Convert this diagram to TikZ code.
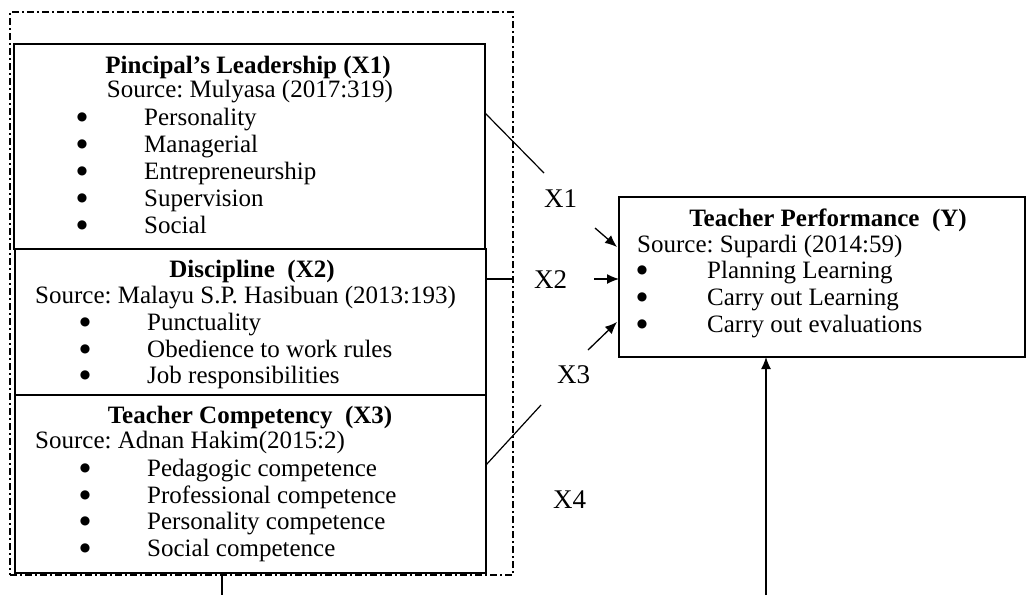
\documentclass[tikz,border=0pt]{standalone}
\usepackage{fontspec}
\setmainfont{Liberation Serif}
\newfontfamily\symfont{DejaVu Sans}
\usetikzlibrary{arrows.meta}
\frenchspacing
\begin{document}
\begin{tikzpicture}[x=1pt,y=-1pt,
  box/.style={draw, line width=1.2pt, rectangle, inner sep=0pt, outer sep=0pt, anchor=north west},
  dashdotbox/.style={box, dash pattern=on 7pt off 3pt on 2pt off 3pt},
  txt/.style={inner sep=0pt, font=\fontsize{25}{28}\selectfont},
  ttl/.style={inner sep=0pt, anchor=base, font=\fontsize{25}{28}\selectfont\bfseries},
  lft/.style={txt, anchor=base west},
  ctr/.style={txt, anchor=base},
  bul/.style={inner sep=0pt, anchor=center, font=\symfont\fontsize{12}{14}\selectfont},
  lbl/.style={inner sep=0pt, anchor=base west, font=\fontsize{27}{30}\selectfont},
  conn/.style={line width=1.2pt},
  arr/.style={line width=1.3pt, -{Latex[length=12pt,width=10pt]}},
]
\useasboundingbox (0,0) rectangle (1026,595);

% outer dash-dot frame
\node[dashdotbox, minimum width=503pt, minimum height=563pt] (frame) at (10,12) {};

% boxes
\node[box, minimum width=471pt, minimum height=205pt] (bx1) at (14,44) {};
\node[box, minimum width=471pt, minimum height=146pt] (bx2) at (15,249) {};
\node[box, minimum width=471pt, minimum height=178pt] (bx3) at (15,395) {};
\node[box, minimum width=406pt, minimum height=160pt] (ybox) at (619,197) {};

% X1 box text
\node[ttl] (t1) at (248,73) {Pincipal’s Leadership (X1)};
\node[ctr] (s1) at (250,97) {Source: Mulyasa (2017:319)};
\node[bul] (b11) at (82,117) {●};
\node[lft] (i11) at (144,125) {Personality};
\node[bul] (b12) at (82,144) {●};
\node[lft] (i12) at (144,152) {Managerial};
\node[bul] (b13) at (82,171) {●};
\node[lft] (i13) at (144,179) {Entrepreneurship};
\node[bul] (b14) at (82,198) {●};
\node[lft] (i14) at (144,206) {Supervision};
\node[bul] (b15) at (82,225) {●};
\node[lft] (i15) at (144,233) {Social};

% X2 box text
\node[ttl] (t2) at (252,277) {Discipline\ \ (X2)};
\node[lft] (s2) at (35,303) {Source: Malayu S.P. Hasibuan (2013:193)};
\node[bul] (b21) at (85,322) {●};
\node[lft] (i21) at (147,330) {Punctuality};
\node[bul] (b22) at (85,349) {●};
\node[lft] (i22) at (147,357) {Obedience to work rules};
\node[bul] (b23) at (85,375) {●};
\node[lft] (i23) at (147,383) {Job responsibilities};

% X3 box text
\node[ttl] (t3) at (250,423) {Teacher Competency\ \ (X3)};
\node[lft] (s3) at (35,448) {Source: Adnan Hakim(2015:2)};
\node[bul] (b31) at (85,468) {●};
\node[lft] (i31) at (147,476) {Pedagogic competence};
\node[bul] (b32) at (85,495) {●};
\node[lft] (i32) at (147,503) {Professional competence};
\node[bul] (b33) at (85,521) {●};
\node[lft] (i33) at (147,529) {Personality competence};
\node[bul] (b34) at (85,548) {●};
\node[lft] (i34) at (147,556) {Social competence};

% Y box text
\node[ttl] (ty) at (828,226) {Teacher Performance\ \ (Y)};
\node[lft] (sy) at (637,252) {Source: Supardi (2014:59)};
\node[bul] (by1) at (642,270) {●};
\node[lft] (iy1) at (707,278) {Planning Learning};
\node[bul] (by2) at (642,297) {●};
\node[lft] (iy2) at (707,305) {Carry out Learning};
\node[bul] (by3) at (642,324) {●};
\node[lft] (iy3) at (707,332) {Carry out evaluations};

% labels
\node[lbl] (lx1) at (544,207) {X1};
\node[lbl] (lx2) at (534,288) {X2};
\node[lbl] (lx3) at (557,383) {X3};
\node[lbl] (lx4) at (553,508) {X4};

% connector coordinates
\coordinate (x1a) at (485,113);
\coordinate (x1b) at (544,173);
\coordinate (x1c) at (595,228);
\coordinate (x1d) at (617,247);
\coordinate (x2a) at (485,279);
\coordinate (x2b) at (514,279);
\coordinate (x2c) at (594,279);
\coordinate (x3a) at (486,465);
\coordinate (x3b) at (541,405);
\coordinate (x3c) at (588,350);
\coordinate (x3d) at (617,322);
\coordinate (bl) at (222,595);
\coordinate (br) at (766,595);

\draw[conn] (x1a) -- (x1b);
\draw[arr] (x1c) -- (x1d);
\draw[conn] (x2a) -- (x2b);
\draw[arr] (x2c) -- (ybox.west |- x2c);
\draw[conn] (x3a) -- (x3b);
\draw[arr] (x3c) -- (x3d);
\draw[conn] (frame.south -| bl) -- (bl);
\draw[arr] (br) -- (ybox.south -| br);
\end{tikzpicture}
\end{document}
